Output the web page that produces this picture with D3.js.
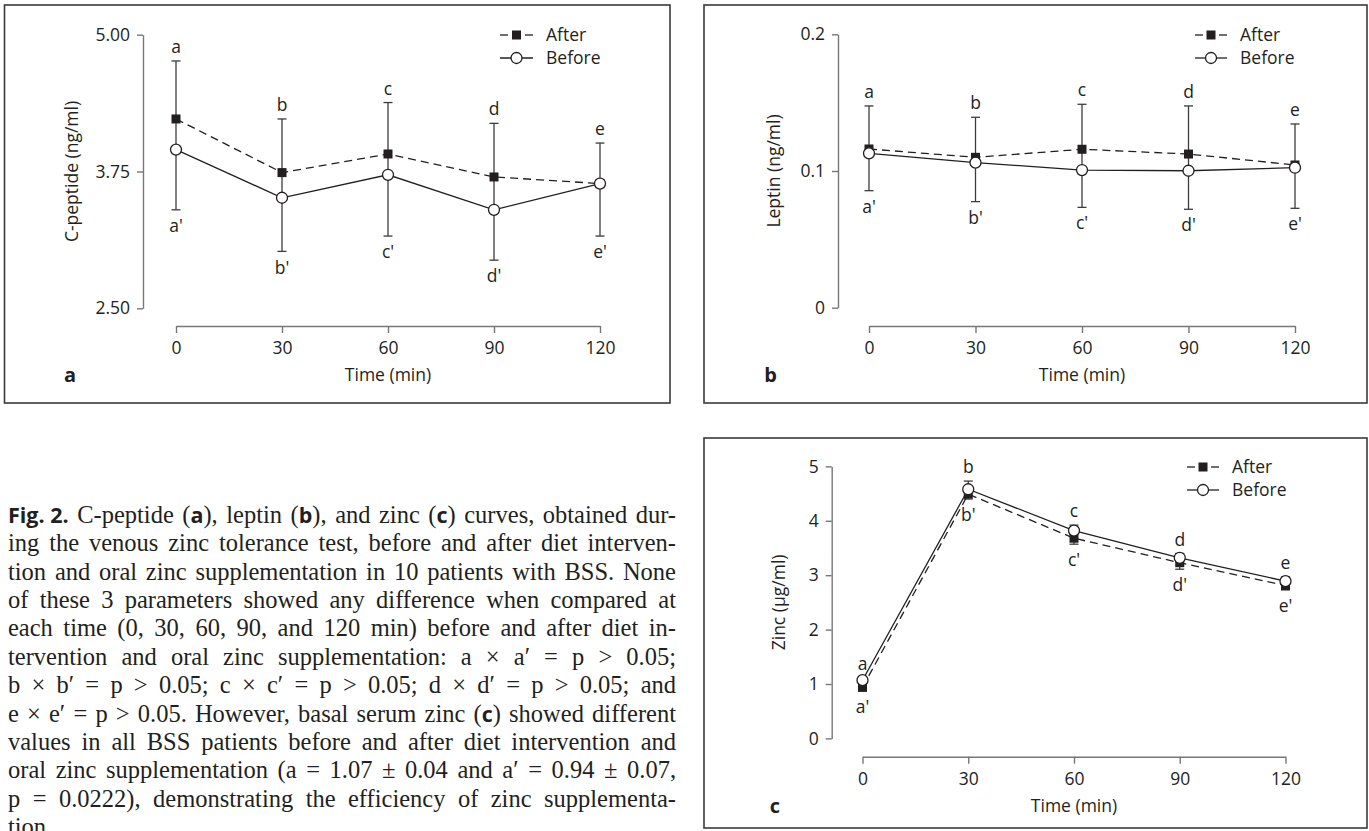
<!DOCTYPE html>
<html>
<head>
<meta charset="utf-8">
<script src="https://cdn.jsdelivr.net/npm/d3@7"></script>
<style>
  body { margin: 0; background: #fff; }
  svg text { font-family: "Open Sans", sans-serif; fill: #231f20; }
</style>
</head>
<body>
<svg id="fig" width="1369" height="831"></svg>
<script>
// time points (min) and the letters tagging each time point
const times = [0, 30, 60, 90, 120];
const tags = ["a", "b", "c", "d", "e"];

// panel a: C-peptide (ng/ml)
const cpepAfter = [4.23, 3.74, 3.91, 3.70, 3.64];
const cpepAfterErr = [0.53, 0.49, 0.47, 0.49, 0.37];
const cpepBefore = [3.95, 3.51, 3.72, 3.40, 3.64];
const cpepBeforeErr = [0.55, 0.49, 0.56, 0.46, 0.48];
const cpepTicks = [2.5, 3.75, 5];

// panel b: leptin (ng/ml)
const leptAfter = [0.1161, 0.1100, 0.1159, 0.1124, 0.1044];
const leptAfterErr = [0.0315, 0.0293, 0.0329, 0.0352, 0.0300];
const leptBefore = [0.1129, 0.1061, 0.1007, 0.1002, 0.1024];
const leptBeforeErr = [0.0273, 0.0285, 0.0273, 0.0282, 0.0297];
const leptTicks = [0, 0.1, 0.2];

// panel c: zinc (µg/ml)
const zincAfter = [0.94, 4.49, 3.68, 3.23, 2.81];
const zincAfterErr = [0.07, 0.09, 0.11, 0.12, 0.08];
const zincBefore = [1.07, 4.58, 3.82, 3.32, 2.89];
const zincBeforeErr = [0.04, 0.15, 0.10, 0.08, 0.08];
const zincTicks = [0, 1, 2, 3, 4, 5];

const legendNames = ["After", "Before"];

const captionLines = [
  "**Fig.\u00a02.** C-peptide (**a**), leptin (**b**), and zinc (**c**) curves, obtained dur-",
  "ing the venous zinc tolerance test, before and after diet interven-",
  "tion and oral zinc supplementation in 10 patients with BSS. None",
  "of these 3 parameters showed any difference when compared at",
  "each time (0, 30, 60, 90, and 120 min) before and after diet in-",
  "tervention and oral zinc supplementation: a × a′ = p > 0.05;",
  "b × b′ = p > 0.05; c × c′ = p > 0.05; d × d′ = p > 0.05; and",
  "e × e′ = p > 0.05. However, basal serum zinc (**c**) showed different",
  "values in all BSS patients before and after diet intervention and",
  "oral zinc supplementation (a = 1.07 ± 0.04 and a′ = 0.94 ± 0.07,",
  "p = 0.0222), demonstrating the efficiency of zinc supplementa-",
  "tion."
];

const svg = d3.select("#fig");
const fs = 17.5;

const panels = [
  { letter: "a", title: "C-peptide (ng/ml)", after: cpepAfter, afterErr: cpepAfterErr, afterDir: 1,
    before: cpepBefore, beforeErr: cpepBeforeErr, beforeDir: -1, ticks: cpepTicks, fmt: d3.format(".2f"),
    frame: [4.5, 5, 670, 403], axisX: 143, xr: [176, 600], yr: [308.3, 34.7], xAxisY: 326,
    titleX: 71.5, letterX: 70, leg: [500, 533, 546, 35] },
  { letter: "b", title: "Leptin (ng/ml)", after: leptAfter, afterErr: leptAfterErr, afterDir: 1,
    before: leptBefore, beforeErr: leptBeforeErr, beforeDir: -1, ticks: leptTicks, fmt: d3.format(""),
    frame: [704, 5, 1367, 403], axisX: 838, xr: [869, 1295], yr: [307.7, 34.3], xAxisY: 326,
    titleX: 774, letterX: 770.5, leg: [1195, 1227, 1240, 35] },
  { letter: "c", title: "Zinc (µg/ml)", after: zincAfter, afterErr: zincAfterErr, afterDir: -1,
    before: zincBefore, beforeErr: zincBeforeErr, beforeDir: 1, ticks: zincTicks, fmt: d3.format(""),
    frame: [704, 438, 1367, 828], axisX: 831.7, xr: [862.5, 1285.5], yr: [738.4, 466.4], xAxisY: 756.7,
    titleX: 779, letterX: 775, leg: [1187, 1219, 1232, 467] }
];

panels.forEach(p => drawPanel(p));
drawCaption();

function drawPanel(p) {
  const g = svg.append("g");
  const [fx0, fy0, fx1, fy1] = p.frame;
  g.append("rect")
    .attr("x", fx0).attr("y", fy0)
    .attr("width", fx1 - fx0).attr("height", fy1 - fy0)
    .attr("fill", "none").attr("stroke", "#3a3a3a").attr("stroke-width", 1.6);

  const x = d3.scaleLinear().domain([0, 120]).range(p.xr);
  const y = d3.scaleLinear().domain(d3.extent(p.ticks)).range(p.yr);

  // axes
  const yAxis = g.append("g")
    .attr("transform", `translate(${p.axisX},0)`)
    .call(d3.axisLeft(y).tickValues(p.ticks).tickFormat(p.fmt).tickSize(6).tickSizeOuter(0).tickPadding(7));
  const xAxis = g.append("g")
    .attr("transform", `translate(0,${p.xAxisY})`)
    .call(d3.axisBottom(x).tickValues(times).tickSize(7).tickSizeOuter(0).tickPadding(9));
  [yAxis, xAxis].forEach(a => {
    a.select(".domain").attr("stroke", "#777").attr("stroke-width", 1.4);
    a.selectAll(".tick line").attr("stroke", "#777").attr("stroke-width", 1.4);
    a.selectAll("text").attr("font-size", fs).attr("fill", "#231f20")
      .style("font-family", '"Open Sans", sans-serif');
  });

  g.append("text")
    .attr("transform", `translate(${p.titleX},${(p.yr[0] + p.yr[1]) / 2}) rotate(-90)`)
    .attr("text-anchor", "middle").attr("dy", "0.35em")
    .attr("font-size", fs).text(p.title);
  g.append("text")
    .attr("x", (p.xr[0] + p.xr[1]) / 2).attr("y", p.xAxisY + 49)
    .attr("text-anchor", "middle").attr("dy", "0.35em")
    .attr("font-size", fs).text("Time (min)");
  g.append("text")
    .attr("x", p.letterX).attr("y", p.xAxisY + 49)
    .attr("text-anchor", "middle").attr("dy", "0.35em")
    .attr("font-size", 20).attr("font-weight", 700).text(p.letter);

  // error bars: one series whisker goes up, the other down
  const bars = times.map((t, i) => {
    const ends = [p.after[i] + p.afterDir * p.afterErr[i], p.before[i] + p.beforeDir * p.beforeErr[i]];
    return { t: t, hi: d3.max(ends), lo: d3.min(ends), tag: tags[i] };
  });
  const eb = g.append("g").attr("stroke", "#3c3c3c").attr("stroke-width", 1.3);
  eb.selectAll(".v").data(bars).join("line")
    .attr("x1", d => x(d.t)).attr("x2", d => x(d.t))
    .attr("y1", d => y(d.hi)).attr("y2", d => y(d.lo));
  eb.selectAll(".ct").data(bars).join("line")
    .attr("x1", d => x(d.t) - 4.5).attr("x2", d => x(d.t) + 4.5)
    .attr("y1", d => y(d.hi)).attr("y2", d => y(d.hi));
  eb.selectAll(".cb").data(bars).join("line")
    .attr("x1", d => x(d.t) - 4.5).attr("x2", d => x(d.t) + 4.5)
    .attr("y1", d => y(d.lo)).attr("y2", d => y(d.lo));

  g.selectAll(".tagUp").data(bars).join("text")
    .attr("x", d => x(d.t)).attr("y", d => y(d.hi) - 14)
    .attr("dy", "0.35em").attr("text-anchor", "middle").attr("font-size", fs)
    .text(d => d.tag);
  g.selectAll(".tagDn").data(bars).join("text")
    .attr("x", d => x(d.t)).attr("y", d => y(d.lo) + 16)
    .attr("dy", "0.35em").attr("text-anchor", "middle").attr("font-size", fs)
    .text(d => d.tag + "'");

  // lines
  const line = d3.line().x((d, i) => x(times[i])).y(d => y(d));
  g.append("path").datum(p.after).attr("d", line)
    .attr("fill", "none").attr("stroke", "#231f20").attr("stroke-width", 1.3)
    .attr("stroke-dasharray", "8,5");
  g.append("path").datum(p.before).attr("d", line)
    .attr("fill", "none").attr("stroke", "#231f20").attr("stroke-width", 1.3);

  // markers
  g.selectAll(".sq").data(p.after).join("rect")
    .attr("x", (d, i) => x(times[i]) - 4.5).attr("y", d => y(d) - 4.5)
    .attr("width", 9).attr("height", 9).attr("fill", "#231f20");
  g.selectAll(".ci").data(p.before).join("circle")
    .attr("cx", (d, i) => x(times[i])).attr("cy", d => y(d)).attr("r", 5.5)
    .attr("fill", "#fff").attr("stroke", "#231f20").attr("stroke-width", 1.3);

  // legend
  const [lx0, lx1, tx, ly] = p.leg;
  const lm = (lx0 + lx1) / 2;
  const leg = g.append("g");
  leg.append("line").attr("x1", lx0).attr("x2", lx0 + 8).attr("y1", ly).attr("y2", ly)
    .attr("stroke", "#231f20").attr("stroke-width", 1.3);
  leg.append("line").attr("x1", lx1 - 8).attr("x2", lx1).attr("y1", ly).attr("y2", ly)
    .attr("stroke", "#231f20").attr("stroke-width", 1.3);
  leg.append("rect").attr("x", lm - 4.5).attr("y", ly - 4.5).attr("width", 9).attr("height", 9)
    .attr("fill", "#231f20");
  leg.append("line").attr("x1", lx0).attr("x2", lx1).attr("y1", ly + 23).attr("y2", ly + 23)
    .attr("stroke", "#231f20").attr("stroke-width", 1.3);
  leg.append("circle").attr("cx", lm).attr("cy", ly + 23).attr("r", 5.5)
    .attr("fill", "#fff").attr("stroke", "#231f20").attr("stroke-width", 1.3);
  leg.selectAll("text").data(legendNames).join("text")
    .attr("x", tx).attr("y", (d, i) => ly + i * 23).attr("dy", "0.35em")
    .attr("font-size", fs).text(d => d);
}

function drawCaption() {
  const left = 8, right = 676, top = 522.7, lead = 28.4;
  const cap = svg.append("g");
  captionLines.forEach((ln, li) => {
    const words = ln.split(" ");
    const nodes = words.map(w => {
      const t = cap.append("text").attr("y", top + li * lead);
      w.split(/(\*\*[^*]+\*\*)/).filter(s => s.length).forEach(s => {
        const bold = s.startsWith("**");
        t.append("tspan")
          .style("font-family", bold ? '"Open Sans", sans-serif' : '"Liberation Serif", serif')
          .attr("font-weight", bold ? 700 : 400)
          .attr("font-size", bold ? 21.5 : 24.5)
          .text(bold ? s.slice(2, -2) : s);
      });
      return t;
    });
    const widths = nodes.map(n => n.node().getComputedTextLength());
    const total = d3.sum(widths);
    const last = li === captionLines.length - 1;
    const gap = last || nodes.length < 2 ? 6 : (right - left - total) / (nodes.length - 1);
    let cx = left;
    nodes.forEach((n, i) => { n.attr("x", cx); cx += widths[i] + gap; });
  });
}
</script>
</body>
</html>
